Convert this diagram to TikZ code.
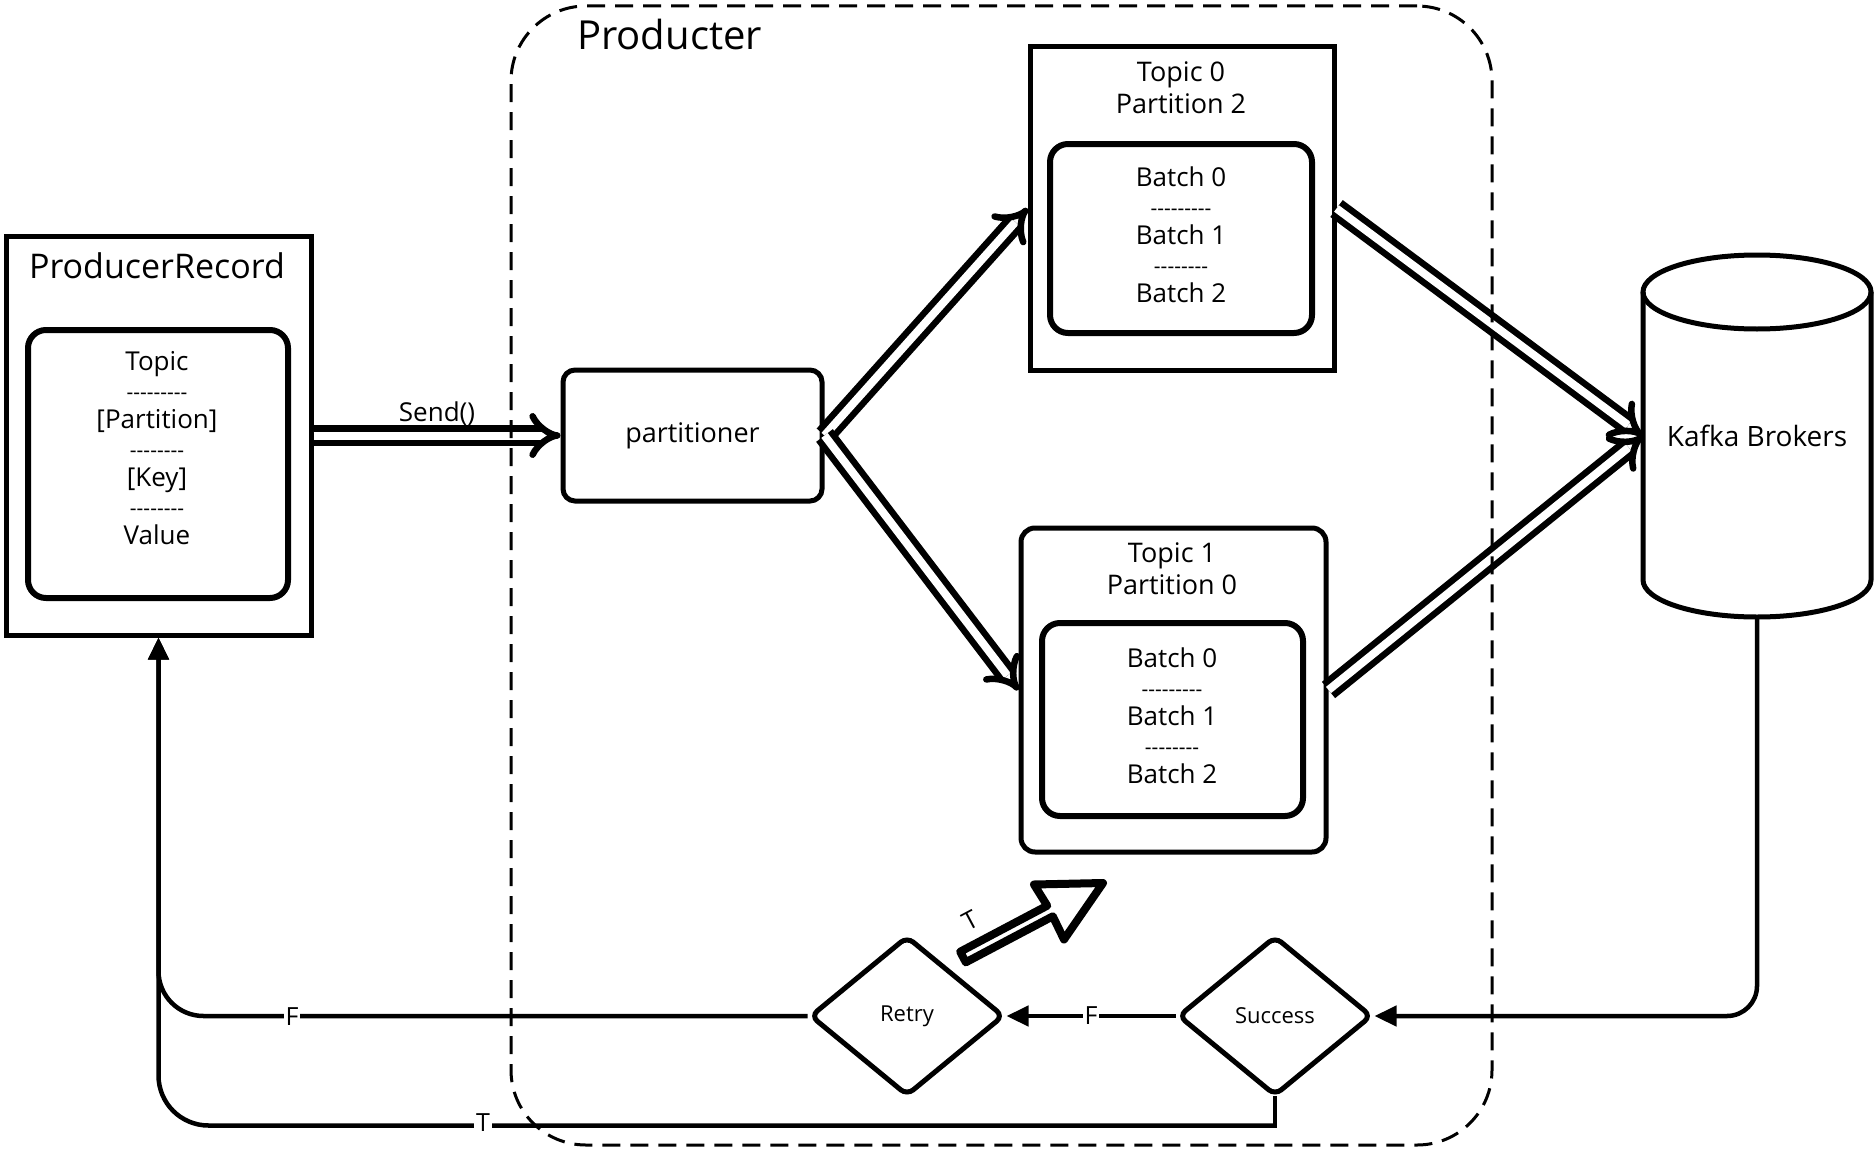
\documentclass[tikz,border=0pt]{standalone}
\usepackage{fontspec}
\setmainfont{Open Sans}[Ligatures=TeXOff]
\usetikzlibrary{shapes.geometric,arrows.meta,calc}
\newcommand{\dashrow}[1]{{\fontsize{21}{29}\selectfont #1}}
\begin{document}
\begin{tikzpicture}[x=1pt,y=-1pt,
  outerbox/.style={draw, line width=5pt, inner sep=0pt},
  innerbox/.style={draw, line width=6pt, rounded corners=18pt, inner sep=0pt},
  txt/.style={font=\fontsize{26}{29}\selectfont, align=center, inner sep=0pt},
  ttl/.style={font=\fontsize{27}{32}\selectfont, align=center, inner sep=0pt},
  dbl/.style={double, line width=6.5pt, double distance=8pt, -{Implies}},
  conn/.style={line width=4.5pt, -{Triangle[length=22pt,width=20pt]}},
  lbl/.style={fill=white, font=\fontsize{25}{25}\selectfont, inner sep=2pt},
  decision/.style={draw, diamond, line width=5pt, minimum width=194pt, minimum height=160pt, inner sep=0pt, rounded corners=8pt, font=\fontsize{22}{22}\selectfont}
]
\useasboundingbox (0,0) rectangle (1876,1156);

% ProducerRecord
\node[outerbox, minimum width=305pt, minimum height=399pt] (pr) at (158.5,435.5) {};
\node[font=\fontsize{34}{40}\selectfont, inner sep=0pt] (prtitle) at (157,266) {ProducerRecord};
\node[innerbox, minimum width=260pt, minimum height=268pt] (prin) at (158,464) {};
\node[txt] (prtext) at (157,448) {Topic\\\dashrow{---------}\\{[}Partition{]}\\\dashrow{--------}\\{[}Key{]}\\\dashrow{--------}\\Value};

% partitioner
\node[outerbox, rounded corners=12pt, minimum width=259pt, minimum height=131pt, font=\fontsize{27}{32}\selectfont] (part) at (692.5,435.5) {partitioner};

% Topic 0 Partition 2
\node[outerbox, minimum width=304pt, minimum height=323pt] (t0) at (1182,208.5) {};
\node[ttl] (t0title) at (1181,88) {Topic 0\\Partition 2};
\node[innerbox, minimum width=262pt, minimum height=189pt] (t0in) at (1181,238.5) {};
\node[txt] (t0text) at (1181,235) {Batch 0\\\dashrow{---------}\\Batch 1\\\dashrow{--------}\\Batch 2};

% Topic 1 Partition 0
\node[outerbox, rounded corners=14pt, minimum width=305pt, minimum height=324pt] (t1) at (1173.5,690) {};
\node[ttl] (t1title) at (1172,569) {Topic 1\\Partition 0};
\node[innerbox, minimum width=261pt, minimum height=193pt] (t1in) at (1172.5,719.5) {};
\node[txt] (t1text) at (1172,716) {Batch 0\\\dashrow{---------}\\Batch 1\\\dashrow{--------}\\Batch 2};

% Kafka Brokers (cylinder)
\node[inner sep=0pt, minimum width=228pt, minimum height=362pt, font=\fontsize{28}{32}\selectfont] (kafka) at (1757,436) {Kafka Brokers};
\draw[line width=5pt] (1757,292) ellipse [x radius=114, y radius=37];
\draw[line width=5pt] (1643,292) -- (1643,580) arc[start angle=180, end angle=0, x radius=114, y radius=37] -- (1871,292);

% decisions
\node[decision] (retry) at (907,1016) {Retry};
\node[decision] (success) at (1275,1016) {Success};

% double arrows
\draw[dbl] (pr.east) -- (part.west) node[midway, above=7pt, inner sep=0pt, font=\fontsize{26}{30}\selectfont] (send) {Send()};
\draw[dbl] (part.east) -- (t0.west);
\draw[dbl] (part.east) -- (t1.west);
\draw[dbl] (t0.east) -- (kafka.west);
\draw[dbl] (t1.east) -- (kafka.west);

% big hollow retry arrow
\draw[line width=8pt, line join=round, fill=white]
  (960.2,951.7) -- (1047.2,905.7) -- (1034,884.5) -- (1103,883) -- (1064,939.5) -- (1052.8,916.3) -- (965.8,962.3) -- cycle;
\node[lbl, fill=none, rotate=28] (tlab) at (970,920) {T};

% result lines
\draw[conn, rounded corners=30pt] (kafka.south) |- (success.east);
\draw[conn] (success.west) -- (retry.east) node[midway, lbl] (f2) {F};
\draw[conn, rounded corners=45pt] (retry.west) -| (pr.south);
\node[lbl] (f1) at (292,1017) {F};
\draw[line width=4.5pt, line cap=rect] (success.south) -- ++(0,27) coordinate (sb);
\draw[conn, rounded corners=50pt] (sb) -| (pr.south);
\node[lbl] (t2) at (483,1123) {T};

% Producter boundary
\node[draw, line width=3pt, dash pattern=on 18pt off 10pt, rounded corners=75pt, minimum width=981pt, minimum height=1139pt, inner sep=0pt] (prod) at (1001.5,575.5) {};
\node[anchor=west, inner sep=0pt, font=\fontsize{40}{46}\selectfont] (prodtitle) at (577,34) {Producter};
\end{tikzpicture}
\end{document}
